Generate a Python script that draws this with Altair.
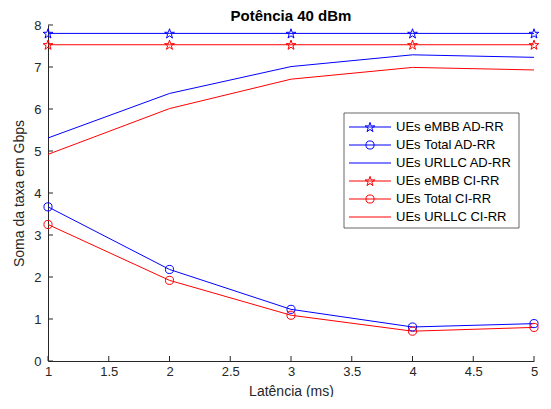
import math
import altair as alt
import pandas as pd

# ---- data ----
latencia = [1, 2, 3, 4, 5]
embb_ad = [7.80, 7.80, 7.80, 7.80, 7.80]
total_ad = [3.67, 2.18, 1.23, 0.81, 0.89]
urllc_ad = [5.31, 6.37, 7.01, 7.29, 7.23]
embb_ci = [7.53, 7.53, 7.53, 7.53, 7.53]
total_ci = [3.25, 1.92, 1.09, 0.71, 0.80]
urllc_ci = [4.92, 6.01, 6.71, 6.99, 6.93]

series_names = ["UEs eMBB AD-RR", "UEs Total AD-RR", "UEs URLLC AD-RR",
                "UEs eMBB CI-RR", "UEs Total CI-RR", "UEs URLLC CI-RR"]
series_values = [embb_ad, total_ad, urllc_ad, embb_ci, total_ci, urllc_ci]
series_colors = ["#0000FF", "#0000FF", "#0000FF", "#FF0000", "#FF0000", "#FF0000"]
series_markers = ["star", "circle", "none", "star", "circle", "none"]

x_ticks = [1, 1.5, 2, 2.5, 3, 3.5, 4, 4.5, 5]
y_ticks = [0, 1, 2, 3, 4, 5, 6, 7, 8]

W, H = 486, 336
XMIN, XMAX, YMIN, YMAX = 1, 5, 0, 8
AX = "#262626"
FONT = "Liberation Sans"

# pentagram symbol path (unit box)
pts = []
for k in range(10):
    r = 1.0 if k % 2 == 0 else 0.382
    a = math.radians(-90 + 36 * k)
    pts.append((r * math.cos(a), r * math.sin(a) + 0.095))
STAR = "M" + "L".join(f"{px:.3f},{py:.3f}" for px, py in pts) + "Z"
STAR_SIZE = 105
CIRC_SIZE = 66

rows = []
for name, vals, col, mk in zip(series_names, series_values, series_colors, series_markers):
    for xv, yv in zip(latencia, vals):
        rows.append({"series": name, "xv": xv, "yv": yv, "col": col, "marker": mk})
df = pd.DataFrame(rows)

xs = alt.Scale(domain=[XMIN, XMAX], nice=False, zero=False)
ys = alt.Scale(domain=[YMIN, YMAX], nice=False, zero=False)

xaxis = alt.Axis(values=x_ticks, ticks=False, grid=False, labelFontSize=13, labelPadding=4,
                 title="Latência (ms)", titleFontSize=14, titleFontWeight="normal",
                 titlePadding=6, labelFlush=False, format="~g")
yaxis = alt.Axis(values=y_ticks, ticks=False, grid=False, labelFontSize=13, labelPadding=7,
                 title="Soma da taxa em Gbps", titleFontSize=14, titleFontWeight="normal",
                 titlePadding=7, labelFlush=False)

base = alt.Chart(df)
lines = base.mark_line(strokeWidth=1).encode(
    x=alt.X("xv:Q", scale=xs, axis=xaxis),
    y=alt.Y("yv:Q", scale=ys, axis=yaxis),
    color=alt.Color("col:N", scale=None),
    detail="series:N",
)
stars = base.transform_filter(alt.datum.marker == "star").mark_point(
    shape=STAR, filled=False, size=STAR_SIZE, strokeWidth=1, opacity=1).encode(
    x=alt.X("xv:Q", scale=xs), y=alt.Y("yv:Q", scale=ys),
    color=alt.Color("col:N", scale=None))
circles = base.transform_filter(alt.datum.marker == "circle").mark_point(
    shape="circle", filled=False, size=CIRC_SIZE, strokeWidth=1, opacity=1).encode(
    x=alt.X("xv:Q", scale=xs), y=alt.Y("yv:Q", scale=ys),
    color=alt.Color("col:N", scale=None))

# inward ticks
ytk = alt.Chart(pd.DataFrame({"v": y_ticks})).mark_rule(color=AX, strokeWidth=1).encode(
    y=alt.Y("v:Q", scale=ys), x=alt.value(0), x2=alt.value(5))
xtk = alt.Chart(pd.DataFrame({"v": x_ticks})).mark_rule(color=AX, strokeWidth=1).encode(
    x=alt.X("v:Q", scale=xs), y=alt.value(H), y2=alt.value(H - 5))

# legend (placed in pixel layout, converted to data units)
def dx(p):
    return XMIN + (XMAX - XMIN) * p / W

def dy(p):
    return YMAX - (YMAX - YMIN) * p / H

leg_rows = []
for i, (name, col, mk) in enumerate(zip(series_names, series_colors, series_markers)):
    py = 102 + 18 * i
    leg_rows.append({"series": name, "col": col, "marker": mk,
                     "lx1": dx(301), "lx2": dx(343), "xm": dx(322), "xt": dx(348), "ly": dy(py)})
ldf = pd.DataFrame(leg_rows)
bdf = pd.DataFrame({"bx1": [dx(296)], "bx2": [dx(471)], "by1": [dy(88)], "by2": [dy(203)]})
box = alt.Chart(bdf).mark_rect(fill="white", stroke=AX, strokeWidth=0.7).encode(
    x=alt.X("bx1:Q", scale=xs), x2="bx2:Q", y=alt.Y("by1:Q", scale=ys), y2="by2:Q")
lbase = alt.Chart(ldf)
llines = lbase.mark_rule(strokeWidth=1).encode(
    x=alt.X("lx1:Q", scale=xs), x2="lx2:Q", y=alt.Y("ly:Q", scale=ys),
    color=alt.Color("col:N", scale=None))
lstars = lbase.transform_filter(alt.datum.marker == "star").mark_point(
    shape=STAR, filled=False, size=STAR_SIZE, strokeWidth=1, opacity=1).encode(
    x=alt.X("xm:Q", scale=xs), y=alt.Y("ly:Q", scale=ys), color=alt.Color("col:N", scale=None))
lcircles = lbase.transform_filter(alt.datum.marker == "circle").mark_point(
    shape="circle", filled=False, size=CIRC_SIZE, strokeWidth=1, opacity=1).encode(
    x=alt.X("xm:Q", scale=xs), y=alt.Y("ly:Q", scale=ys), color=alt.Color("col:N", scale=None))
ltext = lbase.mark_text(align="left", baseline="middle", fontSize=13, font=FONT, color="#000000").encode(
    x=alt.X("xt:Q", scale=xs), y=alt.Y("ly:Q", scale=ys), text="series:N")

chart = alt.layer(lines, stars, circles, ytk, xtk, box, llines, lstars, lcircles, ltext).properties(
    width=W, height=H,
    title=alt.TitleParams("Potência 40 dBm", fontSize=15, fontWeight="bold", font=FONT,
                          color="#000000", offset=0, dy=5),
    autosize=alt.AutoSizeParams(type="none"),
    padding={"left": 40, "top": 17, "right": 7, "bottom": 36},
).configure_view(strokeWidth=0).configure_axis(
    domainColor=AX, domainWidth=1, labelColor=AX, titleColor=AX, labelFont=FONT, titleFont=FONT,
)

chart.save("out.html", embed_options={"renderer": "svg", "actions": False})
